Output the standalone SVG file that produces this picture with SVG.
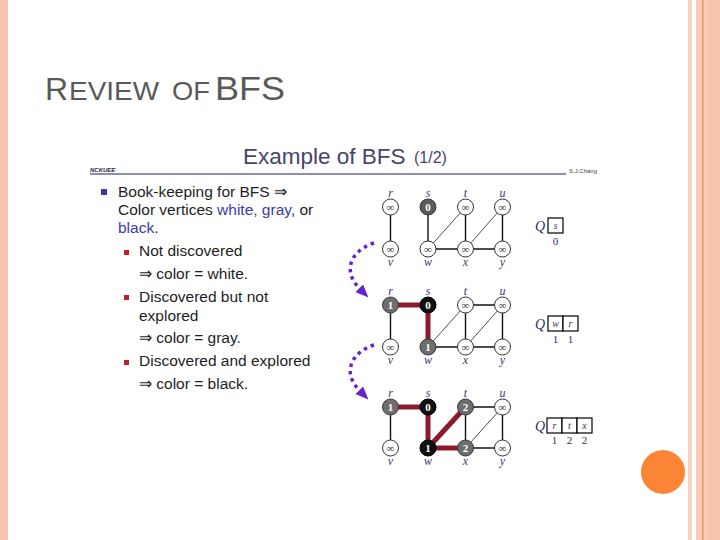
<svg xmlns="http://www.w3.org/2000/svg" width="720" height="540" viewBox="0 0 720 540">
<style>
.body{font-family:"Liberation Sans",Arial,sans-serif;font-size:15.5px;fill:#1e1e1e}
.blue{fill:#3b3ba8}
.lbl{font-family:"Liberation Serif","Times New Roman",serif;font-style:italic;font-size:12px;fill:#38386e;text-anchor:middle}
.nv{font-family:"Liberation Serif","Times New Roman",serif;font-size:11px;text-anchor:middle}
.wn circle{fill:#fff;stroke:#333;stroke-width:1}
.wn .nv{fill:#333}
.gn circle{fill:#6e6e6e;stroke:#3a3a3a;stroke-width:1}
.gn .nv{fill:#fff;font-weight:bold}
.bn circle{fill:#111;stroke:#000;stroke-width:1}
.bn .nv{fill:#fff;font-weight:bold}
.e{stroke:#111;stroke-width:1.4;fill:none}
.d{stroke:#222;stroke-width:0.8;fill:none}
.t{stroke:#8a1a2c;stroke-width:5;fill:none}
.qb{fill:#fff;stroke:#000;stroke-width:1.2}
.q{font-family:"Liberation Serif","Times New Roman",serif;font-style:italic;font-size:14px;fill:#2d2d6b}
.qi{font-family:"Liberation Serif","Times New Roman",serif;font-style:italic;font-size:10px;fill:#33336a;text-anchor:middle}
.qn{font-family:"Liberation Serif","Times New Roman",serif;font-size:11px;fill:#2d2d6b;text-anchor:middle}
.arr{stroke:#6424d0;stroke-width:3.5;stroke-dasharray:3.5 4;fill:none}
</style>
<defs>
<marker id="ah" viewBox="0 0 12 10" refX="1" refY="5" markerWidth="13" markerHeight="11" markerUnits="userSpaceOnUse" orient="auto">
<path d="M0,0 L12,5 L0,10 z" fill="#6424d0"/>
</marker>
</defs>
<rect width="720" height="540" fill="#fff"/>
<g id="frame">
<rect x="0" y="0" width="8" height="540" fill="#f7c3ad"/>
<rect x="688" y="0" width="4" height="540" fill="#fbd3c2"/>
<rect x="696" y="0" width="24" height="540" fill="#fbcab5"/>
<rect x="702" y="0" width="1.5" height="540" fill="#ea9673"/>
<rect x="708" y="0" width="12" height="540" fill="#f9c4ad"/>
<circle cx="663" cy="472" r="22" fill="#fb8535"/>
</g>
<g id="title">
<text y="100" font-family="'Liberation Sans',Arial,sans-serif" fill="#595959"><tspan x="45" font-size="32">R</tspan><tspan x="69" font-size="26.5" textLength="90" lengthAdjust="spacingAndGlyphs">EVIEW</tspan><tspan x="172" font-size="26.5" textLength="38" lengthAdjust="spacingAndGlyphs">OF</tspan><tspan x="215" font-size="33" textLength="70" lengthAdjust="spacingAndGlyphs">BFS</tspan></text>
</g>
<g id="slide-header">
<text x="243" y="164" font-family="'Liberation Sans',Arial,sans-serif" font-size="22.5" fill="#45456a">Example of BFS</text>
<text x="414" y="163" font-family="'Liberation Sans',Arial,sans-serif" font-size="16" fill="#45456a">(1/2)</text>
<line x1="90" y1="174" x2="566" y2="174" stroke="#1e1e50" stroke-width="1"/>
<text x="90" y="172" font-family="'Liberation Sans',Arial,sans-serif" font-size="6" font-style="italic" font-weight="bold" fill="#1e1e50">NCKUEE</text>
<text x="569" y="173" font-family="'Liberation Sans',Arial,sans-serif" font-size="6" fill="#444">S.J.Chang</text>
</g>
<g id="bullets">
<rect x="101" y="189" width="6" height="6" fill="#3b3ba8"/>
<text class="body" x="118" y="197">Book-keeping for BFS ⇒</text>
<text class="body" x="118" y="215">Color vertices <tspan class="blue">white, gray</tspan>, or</text>
<text class="body" x="118" y="233"><tspan class="blue">black</tspan>.</text>
<rect x="124" y="250" width="5" height="5" fill="#c0202a"/>
<text class="body" x="139" y="256">Not discovered</text>
<text class="body" x="139" y="279">⇒ color = white.</text>
<rect x="124" y="295" width="5" height="5" fill="#c0202a"/>
<text class="body" x="139" y="302">Discovered but not</text>
<text class="body" x="139" y="321">explored</text>
<text class="body" x="139" y="343">⇒ color = gray.</text>
<rect x="124" y="360" width="5" height="5" fill="#c0202a"/>
<text class="body" x="139" y="366">Discovered and explored</text>
<text class="body" x="139" y="389">⇒ color = black.</text>
</g>
<g id="connectors">
<line class="e" x1="390.5" y1="207" x2="390.5" y2="249"/>
<line class="e" x1="428" y1="207" x2="428" y2="249"/>
<line class="e" x1="465.5" y1="207" x2="465.5" y2="249"/>
<line class="e" x1="502.5" y1="207" x2="502.5" y2="249"/>
<line class="e" x1="428" y1="249" x2="502.5" y2="249"/>
<line class="d" x1="428" y1="249" x2="465.5" y2="207"/>
<line class="d" x1="465.5" y1="249" x2="502.5" y2="207"/>
<line class="e" x1="390.5" y1="305" x2="390.5" y2="347"/>
<line class="e" x1="465.5" y1="305" x2="502.5" y2="305"/>
<line class="e" x1="465.5" y1="305" x2="465.5" y2="347"/>
<line class="e" x1="502.5" y1="305" x2="502.5" y2="347"/>
<line class="e" x1="428" y1="347" x2="502.5" y2="347"/>
<line class="d" x1="428" y1="347" x2="465.5" y2="305"/>
<line class="d" x1="465.5" y1="347" x2="502.5" y2="305"/>
<line class="t" x1="390.5" y1="305" x2="428" y2="305"/>
<line class="t" x1="428" y1="305" x2="428" y2="347"/>
<line class="e" x1="390.5" y1="407" x2="390.5" y2="448"/>
<line class="e" x1="465.5" y1="407" x2="502.5" y2="407"/>
<line class="e" x1="465.5" y1="407" x2="465.5" y2="448"/>
<line class="e" x1="502.5" y1="407" x2="502.5" y2="448"/>
<line class="e" x1="465.5" y1="448" x2="502.5" y2="448"/>
<line class="d" x1="465.5" y1="448" x2="502.5" y2="407"/>
<line class="t" x1="390.5" y1="407" x2="428" y2="407"/>
<line class="t" x1="428" y1="407" x2="428" y2="448"/>
<line class="t" x1="428" y1="448" x2="465.5" y2="407"/>
<line class="t" x1="428" y1="448" x2="465.5" y2="448"/>
<path class="arr" d="M374,243 C352,250 341,270 360,289" marker-end="url(#ah)"/>
<path class="arr" d="M374,345 C352,352 341,372 360,391" marker-end="url(#ah)"/>
</g>
<g id="p1-r" class="wn"><text class="lbl" x="390.5" y="197">r</text><circle cx="390.5" cy="207" r="8"/><text class="nv" x="390.5" y="210.8">∞</text></g>
<g id="p1-s" class="gn"><text class="lbl" x="428" y="197">s</text><circle cx="428" cy="207" r="8" style="fill:#5a5a5a"/><text class="nv" x="428" y="210.8">0</text></g>
<g id="p1-t" class="wn"><text class="lbl" x="465.5" y="197">t</text><circle cx="465.5" cy="207" r="8"/><text class="nv" x="465.5" y="210.8">∞</text></g>
<g id="p1-u" class="wn"><text class="lbl" x="502.5" y="197">u</text><circle cx="502.5" cy="207" r="8"/><text class="nv" x="502.5" y="210.8">∞</text></g>
<g id="p1-v" class="wn"><circle cx="390.5" cy="249" r="8"/><text class="nv" x="390.5" y="252.8">∞</text><text class="lbl" x="390.5" y="266">v</text></g>
<g id="p1-w" class="wn"><circle cx="428" cy="249" r="8"/><text class="nv" x="428" y="252.8">∞</text><text class="lbl" x="428" y="266">w</text></g>
<g id="p1-x" class="wn"><circle cx="465.5" cy="249" r="8"/><text class="nv" x="465.5" y="252.8">∞</text><text class="lbl" x="465.5" y="266">x</text></g>
<g id="p1-y" class="wn"><circle cx="502.5" cy="249" r="8"/><text class="nv" x="502.5" y="252.8">∞</text><text class="lbl" x="502.5" y="266">y</text></g>
<g id="p2-r" class="gn"><text class="lbl" x="390.5" y="295">r</text><circle cx="390.5" cy="305" r="8"/><text class="nv" x="390.5" y="308.8">1</text></g>
<g id="p2-s" class="bn"><text class="lbl" x="428" y="295">s</text><circle cx="428" cy="305" r="8"/><text class="nv" x="428" y="308.8">0</text></g>
<g id="p2-t" class="wn"><text class="lbl" x="465.5" y="295">t</text><circle cx="465.5" cy="305" r="8"/><text class="nv" x="465.5" y="308.8">∞</text></g>
<g id="p2-u" class="wn"><text class="lbl" x="502.5" y="295">u</text><circle cx="502.5" cy="305" r="8"/><text class="nv" x="502.5" y="308.8">∞</text></g>
<g id="p2-v" class="wn"><circle cx="390.5" cy="347" r="8"/><text class="nv" x="390.5" y="350.8">∞</text><text class="lbl" x="390.5" y="364">v</text></g>
<g id="p2-w" class="gn"><circle cx="428" cy="347" r="8"/><text class="nv" x="428" y="350.8">1</text><text class="lbl" x="428" y="364">w</text></g>
<g id="p2-x" class="wn"><circle cx="465.5" cy="347" r="8"/><text class="nv" x="465.5" y="350.8">∞</text><text class="lbl" x="465.5" y="364">x</text></g>
<g id="p2-y" class="wn"><circle cx="502.5" cy="347" r="8"/><text class="nv" x="502.5" y="350.8">∞</text><text class="lbl" x="502.5" y="364">y</text></g>
<g id="p3-r" class="gn"><text class="lbl" x="390.5" y="397">r</text><circle cx="390.5" cy="407" r="8"/><text class="nv" x="390.5" y="410.8">1</text></g>
<g id="p3-s" class="bn"><text class="lbl" x="428" y="397">s</text><circle cx="428" cy="407" r="8"/><text class="nv" x="428" y="410.8">0</text></g>
<g id="p3-t" class="gn"><text class="lbl" x="465.5" y="397">t</text><circle cx="465.5" cy="407" r="8"/><text class="nv" x="465.5" y="410.8">2</text></g>
<g id="p3-u" class="wn"><text class="lbl" x="502.5" y="397">u</text><circle cx="502.5" cy="407" r="8"/><text class="nv" x="502.5" y="410.8">∞</text></g>
<g id="p3-v" class="wn"><circle cx="390.5" cy="448" r="8"/><text class="nv" x="390.5" y="451.8">∞</text><text class="lbl" x="390.5" y="465">v</text></g>
<g id="p3-w" class="bn"><circle cx="428" cy="448" r="8"/><text class="nv" x="428" y="451.8">1</text><text class="lbl" x="428" y="465">w</text></g>
<g id="p3-x" class="gn"><circle cx="465.5" cy="448" r="8"/><text class="nv" x="465.5" y="451.8">2</text><text class="lbl" x="465.5" y="465">x</text></g>
<g id="p3-y" class="wn"><circle cx="502.5" cy="448" r="8"/><text class="nv" x="502.5" y="451.8">∞</text><text class="lbl" x="502.5" y="465">y</text></g>
<g id="queue-1">
<text class="q" x="535" y="231">Q</text>
<rect class="qb" x="548" y="218" width="15" height="15"/>
<text class="qi" x="555.5" y="229">s</text>
<text class="qn" x="555.5" y="245">0</text>
</g>
<g id="queue-2">
<text class="q" x="535" y="329">Q</text>
<rect class="qb" x="548" y="316" width="15" height="15"/>
<rect class="qb" x="563" y="316" width="15" height="15"/>
<text class="qi" x="555.5" y="327">w</text>
<text class="qi" x="570.5" y="327">r</text>
<text class="qn" x="555.5" y="343">1</text>
<text class="qn" x="570.5" y="343">1</text>
</g>
<g id="queue-3">
<text class="q" x="535" y="431">Q</text>
<rect class="qb" x="547" y="418" width="15" height="15"/>
<rect class="qb" x="562" y="418" width="15" height="15"/>
<rect class="qb" x="577" y="418" width="15" height="15"/>
<text class="qi" x="554.5" y="429">r</text>
<text class="qi" x="569.5" y="429">t</text>
<text class="qi" x="584.5" y="429">x</text>
<text class="qn" x="554.5" y="444">1</text>
<text class="qn" x="569.5" y="444">2</text>
<text class="qn" x="584.5" y="444">2</text>
</g>
</svg>
